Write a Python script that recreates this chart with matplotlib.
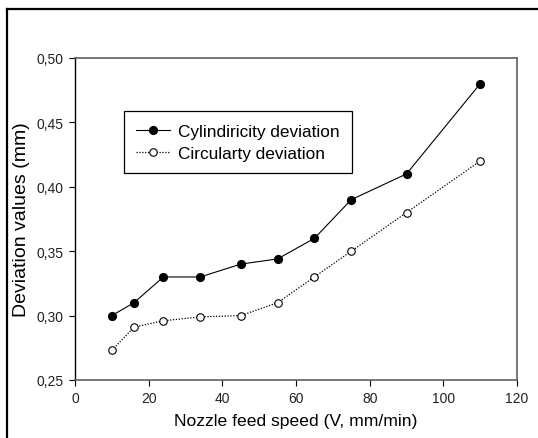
import matplotlib
matplotlib.use("Agg")
import matplotlib.pyplot as plt
from matplotlib.lines import Line2D

plt.rcParams['font.family'] = ['Liberation Sans', 'DejaVu Sans']

speed = [10, 16, 24, 34, 45, 55, 65, 75, 90, 110]
cylindricity = [0.300, 0.310, 0.330, 0.330, 0.340, 0.344, 0.360, 0.390, 0.410, 0.480]
circularity = [0.273, 0.291, 0.296, 0.299, 0.300, 0.310, 0.330, 0.350, 0.380, 0.420]
xticks = [0, 20, 40, 60, 80, 100, 120]
yticks = [0.25, 0.30, 0.35, 0.40, 0.45, 0.50]
ytick_labels = ["0,25", "0,30", "0,35", "0,40", "0,45", "0,50"]

W, H = 538, 439
fig = plt.figure(figsize=(W / 100, H / 100), dpi=100)
ax = fig.add_axes([75 / W, 1 - 381 / H, (517 - 75) / W, (381 - 59) / H])

ax.plot(speed, cylindricity, color='black', lw=0.8, marker='o', ms=5.6,
        mfc='black', mec='black', label='Cylindiricity deviation')
ax.plot(speed, circularity, color='black', lw=0.9, ls=(0, (1, 1.3)), marker='o', ms=5.4,
        mfc='white', mec='black', mew=0.8, label='Circularty deviation')

ax.set_xlim(0, 120)
ax.set_ylim(0.25, 0.50)
ax.set_xticks(xticks)
ax.set_xticklabels([str(t) for t in xticks])
ax.set_yticks(yticks)
ax.set_yticklabels(ytick_labels)
ax.tick_params(labelsize=10, length=4, width=0.8, direction='out', pad=4, colors='black')
for lab in ax.get_xticklabels() + ax.get_yticklabels():
    lab.set_color('#222222')

for side in ['top', 'right', 'bottom']:
    ax.spines[side].set_color('#606060')
    ax.spines[side].set_linewidth(1.2)
ax.spines['left'].set_color('black')
ax.spines['left'].set_linewidth(1.0)

ax.set_xlabel('Nozzle feed speed (V, mm/min)', fontsize=12.6, labelpad=6)
ax.set_ylabel('Deviation values (mm)', fontsize=14, labelpad=5)

leg = ax.legend(loc='upper left', bbox_to_anchor=(0.11, 0.834), fontsize=12.4,
                frameon=True, fancybox=False, edgecolor='black', framealpha=1,
                borderaxespad=0, handlelength=2.0, handletextpad=0.45, borderpad=0.7,
                labelspacing=0.45)
leg.get_frame().set_linewidth(0.9)

# figure border (top and left)
fig.add_artist(Line2D([7 / W, 1], [1 - 10 / H, 1 - 10 / H], color='black', lw=1.6, transform=fig.transFigure))
fig.add_artist(Line2D([7 / W, 7 / W], [0, 1 - 10 / H], color='black', lw=1.6, transform=fig.transFigure))

fig.savefig('out.png', dpi=100)
